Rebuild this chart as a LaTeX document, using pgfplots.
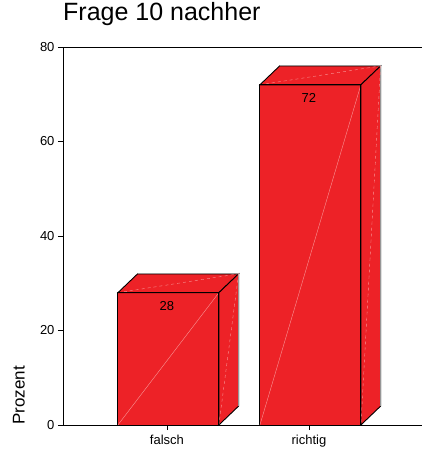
\documentclass[border=0pt]{standalone}
\usepackage{fontspec}
\setmainfont{Liberation Sans}
\usepackage{pgfplots}
\pgfplotsset{compat=1.18}
\definecolor{barred}{RGB}{237,34,39}
\definecolor{diag}{RGB}{248,150,150}
\definecolor{backedge}{RGB}{150,150,150}
\begin{document}
\begin{tikzpicture}[x=1pt,y=1pt]
\useasboundingbox (0,0) rectangle (422,452);
\begin{axis}[
  at={(63pt,27pt)}, anchor=south west,
  scale only axis, width=362pt, height=378pt,
  xmin=-0.732, xmax=1.817, ymin=0, ymax=80,
  xtick={0,1}, xticklabels={falsch,richtig},
  ytick={0,20,40,60,80},
  tick align=outside, xtick pos=bottom, ytick pos=left,
  major tick length=5pt,
  tick style={black, line width=0.8pt},
  axis line style={black, line width=1pt},
  ticklabel style={font=\fontsize{13}{15}\selectfont},
  xticklabel style={yshift=-2pt},
  /pgf/number format/assume math mode=true,
  ylabel={Prozent},
  ylabel style={at={(axis description cs:-0.105,0)}, anchor=south west, inner sep=0pt, font=\fontsize{17}{20}\selectfont},
  title={Frage 10 nachher},
  title style={at={(rel axis cs:0,1)}, anchor=base west, yshift=21pt, inner sep=0pt, font=\fontsize{25}{30}\selectfont},
]
% front faces
\addplot[ybar, bar width=0.711, bar shift=0.01, fill=barred, draw=black, line width=0.9pt,
  nodes near coords, point meta=y,
  nodes near coords style={anchor=north, inner sep=0pt, yshift=-8.5pt, font=\fontsize{13}{15}\selectfont, black}]
  coordinates {(0,28) (1,72)};
% front diagonals
\addplot[diag, line width=0.4pt] coordinates {(-0.3455,0) (0.3655,28)};
\addplot[diag, line width=0.4pt] coordinates {(0.6545,0) (1.3655,72)};
% top faces
\addplot[fill=barred, draw=black, line width=0.9pt] coordinates {(-0.3455,28) (-0.2065,32) (0.5045,32) (0.3655,28)} --cycle;
\addplot[fill=barred, draw=black, line width=0.9pt] coordinates {(0.6545,72) (0.7935,76) (1.5045,76) (1.3655,72)} --cycle;
% side faces
\addplot[fill=barred, draw=black, line width=0.9pt] coordinates {(0.3655,0) (0.5045,4) (0.5045,32) (0.3655,28)} --cycle;
\addplot[fill=barred, draw=black, line width=0.9pt] coordinates {(1.3655,0) (1.5045,4) (1.5045,76) (1.3655,72)} --cycle;
% back edges (lighter)
\addplot[backedge, line width=0.9pt] coordinates {(-0.2065,32) (0.5045,32) (0.5045,4)};
\addplot[backedge, line width=0.9pt] coordinates {(0.7935,76) (1.5045,76) (1.5045,4)};
% top and side diagonals
\addplot[diag, line width=0.4pt, dashed] coordinates {(-0.3455,28) (0.5045,32)};
\addplot[diag, line width=0.4pt, dashed] coordinates {(0.6545,72) (1.5045,76)};
\addplot[diag, line width=0.4pt, dashed] coordinates {(0.5045,32) (0.3655,0)};
\addplot[diag, line width=0.4pt, dashed] coordinates {(1.5045,76) (1.3655,0)};
% redraw front outline edges
\addplot[black, line width=0.9pt] coordinates {(-0.3455,28) (0.3655,28) (0.3655,0)};
\addplot[black, line width=0.9pt] coordinates {(0.6545,72) (1.3655,72) (1.3655,0)};
\end{axis}
\end{tikzpicture}
\end{document}
